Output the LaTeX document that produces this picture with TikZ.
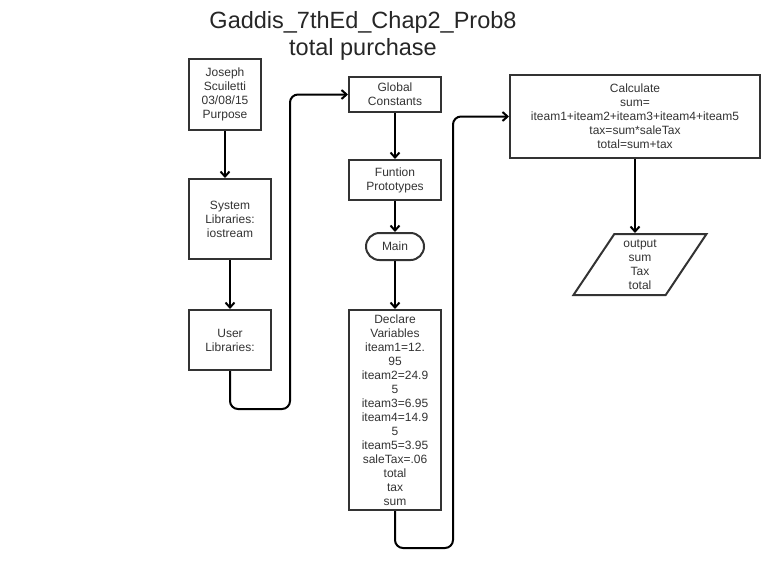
\documentclass[tikz,border=0pt]{standalone}
\usepackage{fontspec}
\setmainfont{Liberation Sans}
\usetikzlibrary{arrows.meta, shapes.geometric, positioning}
\definecolor{boxline}{HTML}{333333}
\tikzstyle{stepbox} = [draw=boxline, line width=2pt, rectangle, align=center,
   text=boxline, font=\fontsize{12}{14}\selectfont, inner sep=0pt]
\tikzstyle{termbox} = [stepbox, rounded corners=13.5pt]
\tikzstyle{iobox} = [stepbox, trapezium, trapezium left angle=62,
   trapezium right angle=118, trapezium stretches=true]
\tikzstyle{flowArrow} = [line width=2pt, -{Straight Barb[length=5pt,width=9pt]},
   rounded corners=8pt]

\begin{document}
\begin{tikzpicture}[x=1pt, y=-1pt]
  \useasboundingbox (0,0) rectangle (783,574);

  \node[font=\fontsize{23.5}{27}\selectfont, align=center, text=black!85] (title)
    at (363,36) {Gaddis\_7thEd\_Chap2\_Prob8\\total purchase};

  % left column
  \node[stepbox, minimum width=72, minimum height=71] (joseph) at (225,94.5)
    {Joseph\\Scuiletti\\03/08/15\\Purpose};
  \node[stepbox, minimum width=82, minimum height=80] (syslib) at (230,219)
    {System\\Libraries:\\iostream};
  \node[stepbox, minimum width=82, minimum height=60] (userlib) at (230,340)
    {User\\Libraries:};

  % middle column
  \node[stepbox, minimum width=92, minimum height=35] (global) at (395,94.5)
    {Global\\Constants};
  \node[stepbox, minimum width=92, minimum height=40] (proto) at (395,180)
    {Funtion\\Prototypes};
  \node[termbox, minimum width=58, minimum height=27] (main) at (395,246.5) {Main};
  \node[stepbox, minimum width=92, minimum height=200] (declare) at (395,410)
    {Declare\\Variables\\iteam1=12.\\95\\iteam2=24.9\\5\\iteam3=6.95\\iteam4=14.9\\5\\iteam5=3.95\\saleTax=.06\\total\\tax\\sum};

  % right column
  \node[stepbox, minimum width=250, minimum height=83] (calc) at (635,116.5)
    {Calculate\\sum=\\iteam1+iteam2+iteam3+iteam4+iteam5\\tax=sum*saleTax\\total=sum+tax};
  \node[iobox, minimum width=134, minimum height=61] (output) at (640,264.5)
    {output\\sum\\Tax\\total};

  % bends of the long connectors
  \coordinate (bendA) at (290,409);
  \coordinate (bendB) at (453,548);

  \draw[flowArrow] (joseph.south) -- (joseph.south |- syslib.north);
  \draw[flowArrow] (syslib) -- (userlib);
  \draw[flowArrow] (userlib.south) |- (bendA) |- (global.west);
  \draw[flowArrow] (global) -- (proto);
  \draw[flowArrow] (proto) -- (main);
  \draw[flowArrow] (main) -- (declare);
  \draw[flowArrow] (declare.south) |- (bendB) |- (calc.west);
  \draw[flowArrow] (calc) -- (calc |- output.north);
\end{tikzpicture}
\end{document}
